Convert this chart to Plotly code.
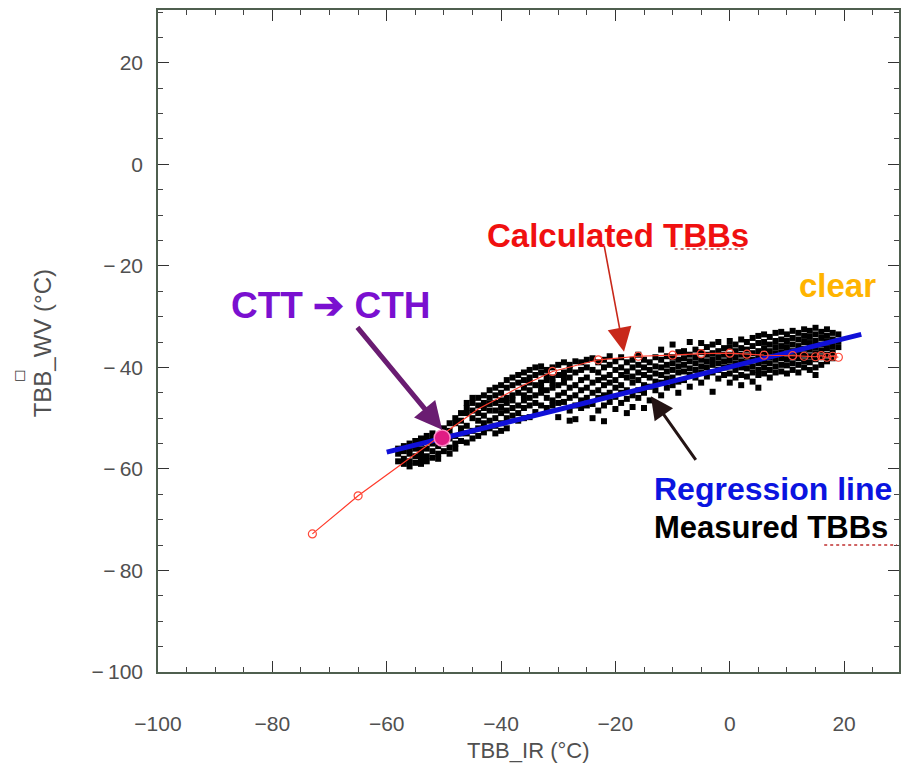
import plotly.graph_objects as go

# ---------------- data ----------------
# Calculated TBBs (red curve)
calc_x = [-73, -65, -51, -44, -37, -31, -23, -16, -10, -5, 0, 3, 6, 11, 13, 15, 16, 17, 18, 19]
calc_y = [-72.8, -65.3, -53.8, -48.2, -44.0, -40.8, -38.5, -37.8, -37.6, -37.3, -37.2, -37.4,
          -37.6, -37.7, -37.8, -37.9, -37.7, -38.0, -37.8, -38.0]
calc_marked = [0, 1, 5, 6, 7, 8, 9, 10, 11, 12, 13, 14, 15, 16, 17, 18, 19]

# Regression line end points
reg_x = [-60, 23]
reg_y = [-56.7, -33.5]

# CTT point
ctt_x = [-50.3]
ctt_y = [-53.9]

# Measured TBBs (black points), grouped by TBB_IR column
meas_x_cols = [-58, -57, -56, -55, -54, -53, -52, -51, -50, -49, -48, -47, -46, -45, -44, -43, -42,
               -41, -40, -39, -38, -37, -36, -35, -34, -33, -32, -31, -30, -29, -28, -27, -26, -25,
               -24, -23, -22, -21, -20, -19, -18, -17, -16, -15, -14, -13, -12, -11, -10, -9, -8,
               -7, -6, -5, -4, -3, -2, -1, 0, 1, 2, 3, 4, 5, 6, 7, 8, 9, 10, 11, 12, 13, 14, 15,
               16, 17, 18, 19]
meas_y_cols = [
    [-57, -58.5, -56],
    [-56.5, -58, -59, -55.5],
    [-57, -58.5, -55, -56, -59.5],
    [-56, -57.5, -54.5, -58.8, -55.5],
    [-55, -57, -58, -54, -56.2, -59],
    [-54.5, -56, -57.5, -53.5, -58.5],
    [-55, -56.5, -53, -57.8, -54],
    [-55.5, -57, -53.8, -58],
    [-53, -55, -56.5, -52],
    [-52.5, -54, -55.8, -51, -57],
    [-51, -53.5, -55, -50, -56],
    [-50.5, -52, -54.5, -49, -53],
    [-49, -51.5, -53, -48, -54.8, -47],
    [-48.5, -50, -52.5, -47, -54, -46],
    [-47.5, -50.5, -52, -46, -53.5, -49],
    [-47, -49.5, -51, -45.5, -52.8, -48],
    [-46, -48.5, -50.5, -44.5, -52, -47.2],
    [-45.5, -47, -50, -44, -51.5, -48.5, -53],
    [-45, -46.5, -49, -43.5, -51, -47.8, -52.5],
    [-44, -46, -48.5, -42.5, -50, -47, -52],
    [-43.5, -45.5, -48, -42, -49.5, -46.5],
    [-43, -45, -47.5, -41.5, -49, -50.5],
    [-42.5, -44, -46.5, -41, -48, -50, -45.5],
    [-42, -44.5, -46, -40.5, -47.5, -49.8, -43],
    [-41.5, -43.5, -45.5, -40, -47, -48.8],
    [-41, -43, -45, -39.8, -47.5, -44],
    [-40.5, -42.5, -44.5, -46, -48, -41.8],
    [-40, -42, -44, -46.5, -47.5, -43],
    [-39.5, -41.5, -43.5, -45.5, -47, -49.8],
    [-39, -41, -43, -45, -46.8, -42],
    [-39.5, -42, -44, -46, -48.5, -40.5, -50.5],
    [-38.8, -41, -43.5, -45.5, -47.5, -50.2],
    [-39, -40.5, -42.5, -44.5, -46.5, -48],
    [-38.5, -40, -42, -44, -46, -47.5],
    [-38.2, -40.5, -43, -45, -47.2, -50],
    [-39, -41, -42.5, -44.5, -46, -48.5],
    [-38.5, -40, -42, -43.5, -45.5, -47.5, -50.6],
    [-37.8, -39.5, -41.5, -43, -45, -46.8],
    [-38.8, -40.5, -42.5, -44, -45.8, -48.2],
    [-38, -40, -41.5, -43.5, -45, -47],
    [-39, -40.8, -42, -44.5, -46.2, -49],
    [-38.5, -40, -41.8, -43, -45.5, -47.8],
    [-37.5, -39.5, -41, -42.5, -44.5, -46],
    [-38.5, -40, -41.5, -43.5, -45, -48],
    [-39, -40.5, -42, -43.8, -46.5],
    [-38, -39.8, -41.2, -42.8, -44.5],
    [-36.5, -38.5, -40, -41.5, -43, -45.5],
    [-37.8, -39.5, -40.8, -42.2, -44],
    [-35.5, -38, -39.2, -40.5, -42, -43.5],
    [-37, -38.5, -39.8, -41, -42.8, -45],
    [-36.8, -38.2, -39.5, -40.8, -42.5],
    [-35, -37.5, -38.8, -40.2, -41.5, -43.8],
    [-36.5, -38, -39.2, -40.5, -42],
    [-35.2, -37, -38.5, -39.8, -41, -43],
    [-36, -37.5, -38.8, -40, -41.8],
    [-35.5, -37.2, -38.4, -39.5, -41, -44.8],
    [-35, -36.8, -38, -39.2, -40.5, -42.2],
    [-36.2, -37.5, -38.8, -40, -41.5],
    [-34.8, -36, -37.5, -38.6, -39.8, -41.2, -43],
    [-35.5, -36.8, -38, -39.2, -40.5, -42],
    [-34.5, -36.2, -37.5, -38.8, -40, -41.5, -43.5],
    [-35, -36.5, -37.8, -39, -40.2, -41.8],
    [-34.2, -35.8, -37.2, -38.5, -39.8, -41, -42.8],
    [-33.8, -35.2, -36.8, -38, -39.2, -40.5, -41.5, -44],
    [-33.5, -35, -36.2, -37.5, -38.8, -40, -41.2],
    [-34, -35.5, -36.8, -38, -39.2, -40.5, -42],
    [-33.2, -34.8, -36, -37.2, -38.5, -39.8, -41],
    [-33, -34.5, -35.8, -37, -38.2, -39.5, -40.8],
    [-33.5, -34.8, -36, -37.2, -38.4, -39.6, -41.2],
    [-32.8, -34.2, -35.5, -36.8, -38, -39.2, -40.5],
    [-33.2, -34.5, -35.8, -37, -38.2, -39.5, -41],
    [-32.5, -33.8, -35, -36.3, -37.5, -38.8, -40],
    [-32.8, -34, -35.2, -36.5, -37.8, -39, -40.5],
    [-32.2, -33.5, -34.8, -36, -37.2, -38.4, -40, -41.5],
    [-33, -34.2, -35.5, -36.7, -38, -39.5],
    [-32.5, -33.8, -35, -36.2, -37.5, -38.8],
    [-33.2, -34.5, -35.8, -37, -38.2],
    [-33.5, -34.8, -36],
]

x_ticks = [-100, -80, -60, -40, -20, 0, 20]
x_tick_text = ["\u2212100", "\u221280", "\u221260", "\u221240", "\u221220", "0", "20"]
y_ticks = [-100, -80, -60, -40, -20, 0, 20]
y_tick_text = ["\u2212\u2009100", "\u2212\u200980", "\u2212\u200960", "\u2212\u200940",
               "\u2212\u200920", "0", "20"]

# flatten measured points
meas_x, meas_y = [], []
for cx, ys in zip(meas_x_cols, meas_y_cols):
    for yv in ys:
        meas_x.append(cx)
        meas_y.append(yv)

# ---------------- figure ----------------
W, H = 901, 769
ML, MR, MT, MB = 158, 0, 10, 97
PW, PH = W - ML - MR, H - MT - MB

def px(xp):
    return (xp - ML) / PW

def py(yp):
    return (H - MB - yp) / PH

fig = go.Figure()

fig.add_trace(go.Scatter(
    x=meas_x, y=meas_y, mode="markers",
    marker=dict(symbol="square", size=6, color="black", line=dict(width=0)),
    hoverinfo="skip", showlegend=False))

fig.add_trace(go.Scatter(
    x=reg_x, y=reg_y, mode="lines",
    line=dict(color="#1010d8", width=5), showlegend=False))

fig.add_trace(go.Scatter(
    x=calc_x, y=calc_y, mode="lines",
    line=dict(color="#ff3a2a", width=1.2), showlegend=False))

fig.add_trace(go.Scatter(
    x=[calc_x[i] for i in calc_marked], y=[calc_y[i] for i in calc_marked], mode="markers",
    marker=dict(symbol="circle-open", size=8, color="#ff4a3a", line=dict(width=1.2)),
    showlegend=False))

fig.add_trace(go.Scatter(
    x=ctt_x, y=ctt_y, mode="markers",
    marker=dict(symbol="circle", size=16, color="#e01c84",
                line=dict(color="#ff8cc8", width=1.5)),
    showlegend=False))

tickfont = dict(family="Liberation Sans, Arial, sans-serif", size=21, color="#505050")

fig.update_xaxes(
    range=[-100, 29.6], tickvals=x_ticks, ticktext=x_tick_text, ticks="inside", ticklen=11,
    tickwidth=1.3, tickcolor="#333", showline=True, linecolor="#4f5f4f", linewidth=1.6,
    mirror="ticks", showgrid=False, zeroline=False, tickfont=tickfont, ticklabelstandoff=32,
    minor=dict(dtick=5, ticks="inside", ticklen=5, tickcolor="#444", tickwidth=1))
fig.update_yaxes(
    range=[-100, 30.4], tickvals=y_ticks, ticktext=y_tick_text, ticks="inside", ticklen=11,
    tickwidth=1.3, tickcolor="#333", showline=True, linecolor="#4f5f4f", linewidth=1.6,
    mirror="ticks", showgrid=False, zeroline=False, tickfont=tickfont, ticklabelstandoff=9,
    minor=dict(dtick=5, ticks="inside", ticklen=5, tickcolor="#444", tickwidth=1))

bold = "Liberation Sans, Arial, sans-serif"
ann = []
# axis titles
ann.append(dict(text="TBB_IR (°C)", xref="paper", yref="paper", x=px(529), y=py(750),
                showarrow=False, xanchor="center", yanchor="middle",
                font=dict(family=bold, size=22, color="#505050")))
ann.append(dict(text="TBB_WV (°C)", xref="paper", yref="paper", x=px(42), y=py(343),
                showarrow=False, textangle=-90, xanchor="center", yanchor="middle",
                font=dict(family=bold, size=24, color="#505050")))
ann.append(dict(text="□", xref="paper", yref="paper", x=px(20), y=py(374),
                showarrow=False, xanchor="center", yanchor="middle",
                font=dict(family="DejaVu Sans", size=13, color="#333")))
# labels
ann.append(dict(text="<b>Calculated TBBs</b>", xref="paper", yref="paper", x=px(486), y=py(235),
                showarrow=False, xanchor="left", yanchor="middle",
                font=dict(family=bold, size=33, color="#f01010")))
ann.append(dict(text="<b>clear</b>", xref="paper", yref="paper", x=px(799), y=py(285),
                showarrow=False, xanchor="left", yanchor="middle",
                font=dict(family=bold, size=33, color="#ffb400")))
ann.append(dict(text="<b>CTT ➔ CTH</b>", xref="paper", yref="paper", x=px(229), y=py(305),
                showarrow=False, xanchor="left", yanchor="middle",
                font=dict(family=bold, size=37, color="#7a10d0")))
ann.append(dict(text="<b>Regression line</b>", xref="paper", yref="paper", x=px(653), y=py(489),
                showarrow=False, xanchor="left", yanchor="middle",
                font=dict(family=bold, size=32, color="#0a14e0")))
ann.append(dict(text="<b>Measured TBBs</b>", xref="paper", yref="paper", x=px(653), y=py(527),
                showarrow=False, xanchor="left", yanchor="middle",
                font=dict(family=bold, size=31, color="#000000")))
# arrows
ann.append(dict(text="", x=-50.3, y=-52.3, xref="x", yref="y", ax=-86, ay=-104,
                showarrow=True, arrowhead=2, arrowsize=1.1, arrowwidth=5, arrowcolor="#6a1c72"))
ann.append(dict(text="", x=-18.5, y=-36.9, xref="x", yref="y", ax=-20, ay=-107,
                showarrow=True, arrowhead=2, arrowsize=3, arrowwidth=1.6, arrowcolor="#c8281a"))
ann.append(dict(text="", x=-13.8, y=-45.7, xref="x", yref="y", ax=46, ay=65,
                showarrow=True, arrowhead=2, arrowsize=1.5, arrowwidth=3, arrowcolor="#241414"))

shapes = [
    dict(type="line", xref="paper", yref="paper", x0=px(676), x1=px(748), y0=py(249), y1=py(249),
         line=dict(color="#c03030", width=1.5, dash="dot")),
    dict(type="line", xref="paper", yref="paper", x0=px(826), x1=px(899), y0=py(545), y1=py(545),
         line=dict(color="#c03030", width=1.5, dash="dot")),
]

fig.update_layout(
    width=W, height=H, margin=dict(l=ML, r=MR, t=MT, b=MB),
    paper_bgcolor="white", plot_bgcolor="white",
    annotations=ann, shapes=shapes, showlegend=False)

fig.write_html("out.html", config={"displayModeBar": False},
               post_script="document.body.style.margin='0px';document.body.style.overflow='hidden';")
